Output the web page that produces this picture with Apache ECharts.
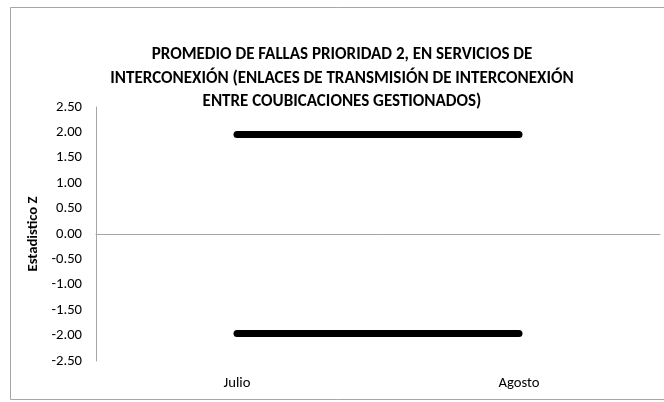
<!DOCTYPE html>
<html>
<head>
<meta charset="utf-8">
<script src="https://cdn.jsdelivr.net/npm/echarts@6/dist/echarts.min.js"></script>
<style>
html,body{margin:0;padding:0;background:#fff;}
#c{width:664px;height:402px;}
</style>
</head>
<body>
<div id="c"></div>
<script>
const categories = ['Julio', 'Agosto'];
const upperLimit = [1.96, 1.96];
const lowerLimit = [-1.96, -1.96];
const titleText = 'PROMEDIO DE FALLAS PRIORIDAD 2, EN SERVICIOS DE\nINTERCONEXIÓN (ENLACES DE TRANSMISIÓN DE INTERCONEXIÓN\nENTRE COUBICACIONES GESTIONADOS)';
const yAxisName = 'Estadistico Z';

const FONT = 'Carlito, "Noto Sans", sans-serif';
const chart = echarts.init(document.getElementById('c'), null, {renderer: 'canvas'});
chart.setOption({
  animation: false,
  backgroundColor: '#fff',
  graphic: [{
    type: 'rect', left: 8, top: 5, z: -1,
    shape: {width: 680, height: 392},
    style: {fill: 'none', stroke: '#a6a6a6', lineWidth: 1}
  }],
  title: {
    text: titleText,
    left: 342, top: 43, textAlign: 'center', padding: 0,
    textStyle: {fontFamily: FONT, fontSize: 17, fontWeight: 'bold', color: '#000', lineHeight: 23.5}
  },
  grid: {left: 96, right: 4, top: 107, bottom: 41},
  xAxis: [{
    type: 'category', data: categories, position: 'bottom',
    axisLine: {show: false, onZero: false}, axisTick: {show: false},
    axisLabel: {fontFamily: FONT, fontSize: 14.67, color: '#000', margin: 15}
  }, {
    type: 'category', data: categories,
    axisLine: {show: true, onZero: true, lineStyle: {color: '#a6a6a6', width: 1}},
    axisTick: {show: false}, axisLabel: {show: false}
  }],
  yAxis: {
    type: 'value', min: -2.5, max: 2.5, interval: 0.5,
    name: yAxisName, nameLocation: 'middle', nameGap: 45,
    nameTextStyle: {fontFamily: FONT, fontSize: 14.67, fontWeight: 'bold', color: '#000'},
    axisLine: {show: true, onZero: false, lineStyle: {color: '#a6a6a6', width: 1}},
    axisTick: {show: false},
    splitLine: {show: false},
    axisLabel: {fontFamily: FONT, fontSize: 14.67, color: '#000', margin: 14,
      formatter: v => v.toFixed(2)}
  },
  series: [{
    type: 'line', data: upperLimit, showSymbol: false, symbol: 'none',
    lineStyle: {color: '#000', width: 7, cap: 'round'}
  }, {
    type: 'line', data: lowerLimit, showSymbol: false, symbol: 'none',
    lineStyle: {color: '#000', width: 7, cap: 'round'}
  }]
});
</script>
</body>
</html>
